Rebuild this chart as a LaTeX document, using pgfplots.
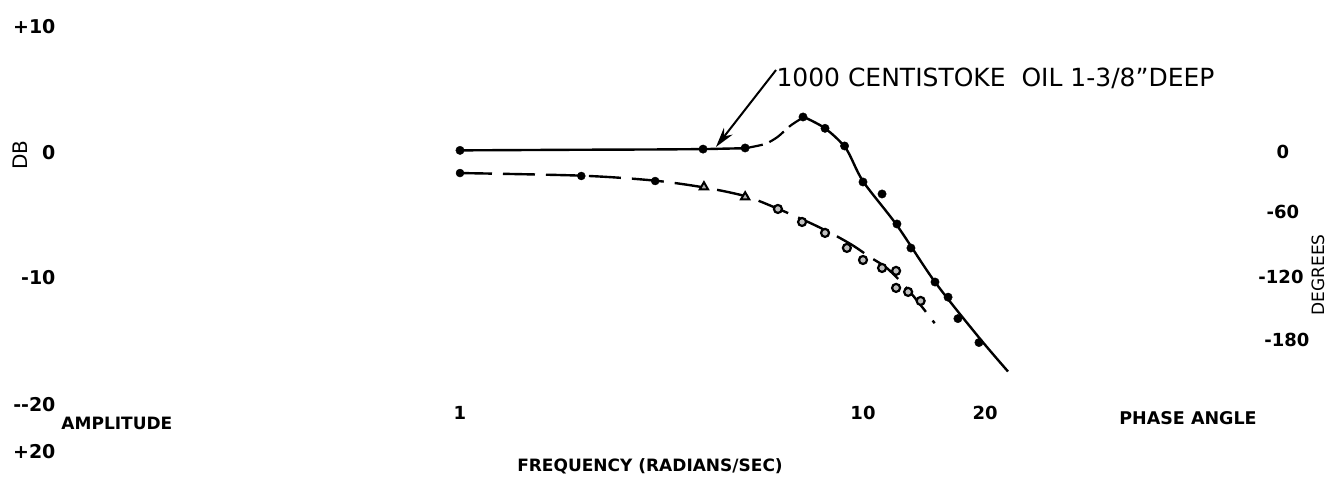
\documentclass[border=0pt]{standalone}
\usepackage{pgfplots}
\pgfplotsset{compat=1.18}
\usepackage{fontspec}
\setmainfont{DejaVu Sans}
\usetikzlibrary{arrows.meta}
\begin{document}
\begin{tikzpicture}
\begin{axis}[scale only axis, width=1332pt, height=498pt,
  xmode=log, xmin=0.07222, xmax=145.8, ymin=-27.54, ymax=11.984,
  hide axis, clip=false]
\path (rel axis cs:0,0) rectangle (rel axis cs:1,1);
% amplitude line, low-frequency solid part
\addplot[black, line width=2.4pt] coordinates {(1,0.05) (2,0.1) (3,0.12) (4.01,0.15) (5.1,0.22)};
% dashed rise to resonance
\addplot[black, line width=2.2pt, dash pattern=on 18pt off 7pt, smooth] coordinates {(5.1,0.22) (5.7,0.55) (6.13,1.1) (6.6,2.0) (7.13,2.7)};
% solid fall-off
\addplot[black, line width=2.4pt, smooth, tension=0.5] coordinates {(7.13,2.7) (8.05,1.8) (9.07,0.2) (10.0,-2.4) (12.14,-5.9) (15.09,-10.4) (19.4,-14.8) (22.9,-17.5)};
% amplitude measured points
\addplot[only marks, mark=*, mark size=4.2pt, black] coordinates {(1,0.05) (4.01,0.15) (5.1,0.24) (7.1,2.7) (8.05,1.8) (9.0,0.4) (10.0,-2.46) (11.15,-3.41) (12.14,-5.79) (13.15,-7.7) (15.09,-10.4) (16.26,-11.6) (17.2,-13.3) (19.4,-15.2)};
% labels
\node[anchor=east, font=\bfseries\fontsize{19}{21}\selectfont] at (rel axis cs:0.0443,0.9458) {+10};
\node[anchor=east, font=\bfseries\fontsize{19}{21}\selectfont] at (rel axis cs:0.0443,0.6928) {0};
\node[anchor=east, font=\bfseries\fontsize{19}{21}\selectfont] at (rel axis cs:0.0443,0.4418) {-10};
\node[anchor=east, font=\bfseries\fontsize{19}{21}\selectfont] at (rel axis cs:0.0443,0.1867) {{-}{-}20};
\node[anchor=east, font=\bfseries\fontsize{19}{21}\selectfont] at (rel axis cs:0.0443,0.0924) {+20};
\node[rotate=90, font=\fontsize{20}{22}\selectfont] at (rel axis cs:0.0150,0.6888) {DB};
\node[anchor=west, font=\bfseries\fontsize{17}{19}\selectfont] at (rel axis cs:0.0435,0.1506) {AMPLITUDE};
\node[font=\bfseries\fontsize{18}{20}\selectfont] at (rel axis cs:0.3453,0.1707) {1};
\node[font=\bfseries\fontsize{18}{20}\selectfont] at (rel axis cs:0.6479,0.1707) {10};
\node[font=\bfseries\fontsize{18}{20}\selectfont] at (rel axis cs:0.7395,0.1707) {20};
\node[font=\bfseries\fontsize{17}{19}\selectfont] at (rel axis cs:0.4880,0.0643) {FREQUENCY (RADIANS/SEC)};
\node[font=\bfseries\fontsize{17.5}{19}\selectfont] at (rel axis cs:0.8919,0.1606) {PHASE ANGLE};
\node[font=\bfseries\fontsize{18}{20}\selectfont] at (rel axis cs:0.9632,0.6948) {0};
\node[font=\bfseries\fontsize{18}{20}\selectfont] at (rel axis cs:0.9632,0.5743) {-60};
\node[font=\bfseries\fontsize{18}{20}\selectfont] at (rel axis cs:0.9617,0.4438) {-120};
\node[font=\bfseries\fontsize{18}{20}\selectfont] at (rel axis cs:0.9662,0.3173) {-180};
\node[rotate=90, font=\fontsize{17}{19}\selectfont] at (rel axis cs:0.9895,0.4478) {DEGREES};
\node[anchor=west, font=\fontsize{25}{27}\selectfont] at (rel axis cs:0.5803,0.8434) {1000 CENTISTOKE\ \ OIL 1-3/8"DEEP};
\draw[black, line width=2pt, -{Stealth[length=20pt, width=11pt]}] (rel axis cs:0.5826,0.8594) -- (rel axis cs:0.5375,0.7048);
\end{axis}
\begin{axis}[scale only axis, width=1332pt, height=498pt,
  xmode=log, xmin=0.07222, xmax=145.8, ymin=-330.5, ymax=143.81,
  hide axis, clip=false]
% phase line
\addplot[black, line width=2.4pt, dash pattern=on 32pt off 11pt, smooth, tension=0.5] coordinates {(1,-21) (2,-23.5) (3,-28) (4,-34.5) (5.1,-43) (6.15,-55) (7.39,-68.5) (8.4,-79) (9.44,-90) (10.4,-101) (11.5,-112) (13,-133) (15.06,-164)};
% phase measured points
\addplot[only marks, mark=*, mark size=4pt, black] coordinates {(1,-21) (2.0,-23.8) (3.05,-28.6)};
\addplot[only marks, mark=triangle*, mark size=4.8pt, black, mark options={fill=gray!60, line width=2pt}] coordinates {(4.03,-34.3) (5.1,-43.8)};
\addplot[only marks, mark=*, mark size=4pt, black, mark options={fill=gray!50, line width=2.2pt}] coordinates {(6.15,-55.2) (7.06,-67.6) (8.05,-78) (9.12,-92.3) (10.0,-103.8) (11.15,-111.4) (12.08,-114.2) (12.08,-130.4) (12.94,-134.2) (13.9,-142.8)};
\end{axis}
\end{tikzpicture}
\end{document}
